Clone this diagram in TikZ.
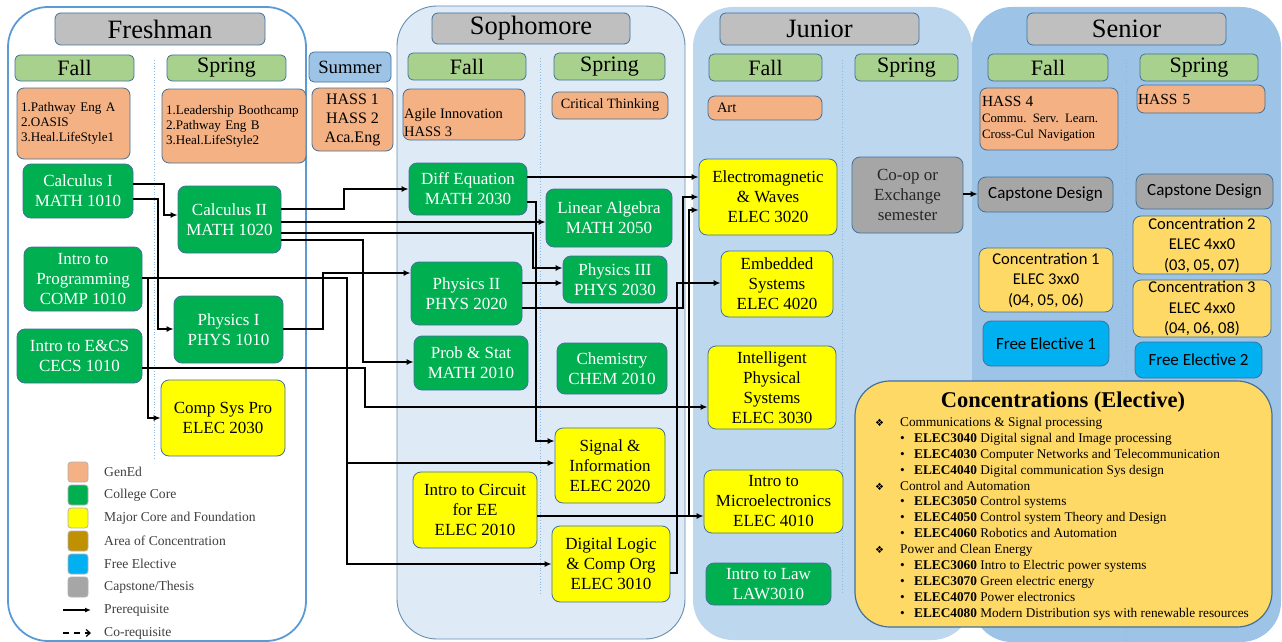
\documentclass[tikz,border=0pt]{standalone}
\usepackage{fontspec}
\setmainfont{Liberation Serif}
\newfontfamily\calfont{Carlito}
\newfontfamily\symfont{DejaVu Sans}
\usetikzlibrary{arrows.meta}

\definecolor{cgened}{HTML}{F4B183}
\definecolor{ccore}{HTML}{00B050}
\definecolor{cmajor}{HTML}{FFFF00}
\definecolor{cconc}{HTML}{FFD966}
\definecolor{careac}{HTML}{BF9000}
\definecolor{cfree}{HTML}{00B0F0}
\definecolor{ccapg}{HTML}{A6A6A6}
\definecolor{chead}{HTML}{BFBFBF}
\definecolor{cseason}{HTML}{A9D18E}
\definecolor{csummer}{HTML}{9DC3E6}
\definecolor{bordr}{HTML}{41719C}
\definecolor{sophf}{HTML}{DEEBF7}
\definecolor{junf}{HTML}{BDD7EE}
\definecolor{senf}{HTML}{9DC3E6}
\definecolor{freshl}{HTML}{5B9BD5}
\definecolor{legt}{HTML}{404040}

\newcommand\crsfont{\fontsize{17}{20}\selectfont}
\newcommand\genfont{\fontsize{13.1}{15}\selectfont}
\newcommand\lstgrp[1]{\makebox[25pt][l]{\symfont\fontsize{10}{12}\selectfont ❖}#1}
\newcommand\lstcrs[2]{\hspace*{25pt}\makebox[14pt][l]{\textbullet}\textbf{#1} #2}

\tikzset{
  wh/.style 2 args={minimum width=#1pt, minimum height=#2pt},
  box/.style={draw=bordr, line width=0.8pt, rounded corners=8pt, align=center, inner sep=1pt},
  core/.style={box, fill=ccore, text=white, font=\crsfont},
  major/.style={box, fill=cmajor, font=\crsfont},
  gened/.style={box, fill=cgened, rounded corners=7pt},
  season/.style={box, fill=cseason, rounded corners=5pt, font=\fontsize{22}{24}\selectfont},
  yearhd/.style={box, fill=chead, rounded corners=6pt, font=\fontsize{26.5}{28}\selectfont},
  capst/.style={box, fill=ccapg, font=\calfont\fontsize{17}{20}\selectfont},
  conc/.style={box, fill=cconc, font=\calfont\fontsize{16.5}{20.5}\selectfont},
  freeel/.style={box, fill=cfree, font=\calfont\fontsize{17}{20}\selectfont},
  panel/.style={rounded corners=40pt},
  divider/.style={draw=freshl!70, line width=0.8pt, dotted},
  pre/.style={line width=1.8pt, -{Latex[length=7pt,width=6pt]}},
  legsq/.style={draw=black!30, line width=0.8pt, rounded corners=3pt, wh={20}{20}},
  legtxt/.style={anchor=west, text=legt, font=\fontsize{13.6}{15}\selectfont, inner sep=0pt},
}

\begin{document}
\begin{tikzpicture}[x=1pt,y=-1pt]
  \useasboundingbox (0,0) rectangle (1282,642);
  % year panels
  \fill[panel, junf] (693,7) rectangle (972,640);
  \fill[panel, senf] (972,7) rectangle (1281,642);
  \draw[panel, fill=sophf, draw=bordr!80, line width=0.9pt] (397,6) rectangle (685,639);
  \draw[panel, fill=white, draw=freshl, line width=1.8pt] (8,7) rectangle (306,641);
  % fall / spring dividers
  \foreach \x/\ya/\yb in {154/60/460, 540/58/593, 842/60/593, 1126/60/640}
    \draw[divider] (\x,\ya) -- (\x,\yb);

  % year and term headers
  \node[yearhd, wh={210}{32}] (hfresh) at (160,29) {Freshman};
  \node[yearhd, wh={198}{31}] (hsoph) at (531,28.5) {Sophomore};
  \node[yearhd, wh={199}{32}] (hjun) at (819.5,29) {Junior};
  \node[yearhd, wh={199}{32}] (hsen) at (1126.5,29) {Senior};
  \node[season, wh={119}{26}] (ffall) at (74.5,68) {Fall};
  \node[season, wh={119}{26}] (fspring) at (226.5,68) {Spring};
  \node[box, fill=csummer, rounded corners=5pt, wh={82}{30}, font=\fontsize{18.7}{20}\selectfont] (summer) at (350,67) {Summer};
  \node[season, wh={118}{27}] (sfall) at (467,66.5) {Fall};
  \node[season, wh={111}{27}] (sspring) at (609.5,66.5) {Spring};
  \node[season, wh={113}{27}] (jfall) at (765.5,67.5) {Fall};
  \node[season, wh={103}{27}] (jspring) at (906.5,67.5) {Spring};
  \node[season, wh={120}{27}] (nfall) at (1048,67.5) {Fall};
  \node[season, wh={118}{27}] (nspring) at (1199,67.5) {Spring};

  % GenEd
  \node[gened, wh={113}{71}, align=left, text width=105pt, font=\genfont] (gef1) at (73.5,123.5) {1.Pathway Eng A\\2.OASIS\\3.Heal.LifeStyle1};
  \node[gened, wh={144}{74}, align=left, text width=136pt, font=\genfont] (gef2) at (234,126) {1.Leadership Boothcamp\\2.Pathway Eng B\\3.Heal.LifeStyle2};
  \node[gened, wh={81}{63}, font=\fontsize{16}{19}\selectfont] (gesum) at (352.5,119.5) {HASS 1\\HASS 2\\Aca.Eng};
  \node[gened, wh={122}{51}] (ges1) at (464,114.5) {};
  \node[anchor=west, align=left, inner sep=0pt, font=\fontsize{14.5}{18}\selectfont] (ges1t) at (404,123) {Agile Innovation\\HASS 3};
  \node[gened, wh={116}{27}, font=\fontsize{14.2}{16}\selectfont] (ges2) at (610,105.5) {Critical Thinking};
  \node[gened, wh={114}{24}, align=left, text width=96pt, font=\fontsize{14.5}{16}\selectfont] (gej1) at (765,108) {Art};
  \node[gened, wh={138}{62}, align=left, text width=134pt, font=\fontsize{12.8}{16}\selectfont] (gen1) at (1049,119) {{\fontsize{15.4}{16}\selectfont HASS 4}\\Commu. Serv. Learn.\\Cross-Cul Navigation};
  \node[gened, wh={128}{28}, align=left, text width=126pt, font=\fontsize{15.4}{16}\selectfont] (gen2) at (1201,99) {HASS 5};

  % courses
  \node[core, wh={110}{54}] (calc1) at (78,191) {Calculus I\\MATH 1010};
  \node[core, wh={103}{67}] (calc2) at (229.5,219.5) {Calculus II\\MATH 1020};
  \node[core, wh={118}{64}] (prog) at (83,279) {Intro to\\Programming\\COMP 1010};
  \node[core, wh={125}{54}] (eecs) at (79.5,356) {Intro to E\&CS\\CECS 1010};
  \node[core, wh={109}{67}] (phys1) at (228.5,329.5) {Physics I\\PHYS 1010};
  \node[major, wh={124}{76}] (compsys) at (223,418) {Comp Sys Pro\\ELEC 2030};
  \node[core, wh={118}{52}] (diffeq) at (468,189) {Diff Equation\\MATH 2030};
  \node[core, wh={126}{58}] (linalg) at (609,218) {Linear Algebra\\MATH 2050};
  \node[core, wh={104}{47}] (phys3) at (615,279.5) {Physics III\\PHYS 2030};
  \node[core, wh={111}{63}] (phys2) at (466.5,293.5) {Physics II\\PHYS 2020};
  \node[core, wh={114}{54}] (probstat) at (471,363) {Prob \& Stat\\MATH 2010};
  \node[core, wh={110}{51}] (chem) at (612,368.5) {Chemistry\\CHEM 2010};
  \node[major, wh={110}{75}] (signal) at (610,465.5) {Signal \&\\Information\\ELEC 2020};
  \node[major, wh={124}{76}] (circuit) at (475,510) {Intro to Circuit\\for EE\\ELEC 2010};
  \node[major, wh={118}{76}] (digital) at (611,564) {Digital Logic\\\& Comp Org\\ELEC 3010};
  \node[major, wh={138}{76}] (emw) at (768,197) {Electromagnetic\\\& Waves\\ELEC 3020};
  \node[major, wh={112}{66}] (embed) at (777,284) {Embedded\\Systems\\ELEC 4020};
  \node[major, wh={128}{83}] (intel) at (772,387.5) {Intelligent\\Physical\\Systems\\ELEC 3030};
  \node[major, wh={139}{63}] (micro) at (773.5,501.5) {Intro to\\Microelectronics\\ELEC 4010};
  \node[core, wh={125}{42}] (law) at (768.5,584) {Intro to Law\\LAW3010};
  \node[box, fill=ccapg, wh={111}{76}, font=\crsfont, text=black!85] (coop) at (907.5,195) {Co-op or\\Exchange\\semester};
  \node[capst, wh={135}{35}] (cap1) at (1045.5,194.5) {Capstone Design};
  \node[capst, wh={137}{35}] (cap2) at (1204.5,191.5) {Capstone Design};
  \node[conc, wh={134}{64}] (conc1) at (1046,280) {Concentration 1\\ELEC 3xx0\\(04, 05, 06)};
  \node[conc, wh={138}{58}] (conc2) at (1202,245) {Concentration 2\\ELEC 4xx0\\(03, 05, 07)};
  \node[conc, wh={138}{57}] (conc3) at (1202,308.5) {Concentration 3\\ELEC 4xx0\\(04, 06, 08)};
  \node[freeel, wh={126}{45}] (free1) at (1046,343.5) {Free Elective 1};
  \node[freeel, wh={127}{36}] (free2) at (1198.5,360) {Free Elective 2};

  % concentrations list
  \node[box, fill=cconc, rounded corners=35pt, line width=1.2pt, wh={417}{246}] (concbox) at (1063.5,504) {};
  \node[inner sep=0pt, font=\bfseries\fontsize{22.5}{24}\selectfont] (conctitle) at (1063,402) {Concentrations (Elective)};
  \node[anchor=north west, align=left, inner sep=0pt, font=\fontsize{13.3}{15.9}\selectfont] (conclist) at (875,417) {%
    \lstgrp{Communications \& Signal processing}\\
    \lstcrs{ELEC3040}{Digital signal and Image processing}\\
    \lstcrs{ELEC4030}{Computer Networks and Telecommunication}\\
    \lstcrs{ELEC4040}{Digital communication Sys design}\\
    \lstgrp{Control and Automation}\\
    \lstcrs{ELEC3050}{Control systems}\\
    \lstcrs{ELEC4050}{Control system Theory and Design}\\
    \lstcrs{ELEC4060}{Robotics and Automation}\\
    \lstgrp{Power and Clean Energy}\\
    \lstcrs{ELEC3060}{Intro to Electric power systems}\\
    \lstcrs{ELEC3070}{Green electric energy}\\
    \lstcrs{ELEC4070}{Power electronics}\\
    \lstcrs{ELEC4080}{Modern Distribution sys with renewable resources}};

  % prerequisites
  \draw[pre] (calc1.east |- 0,184) -- (164,184) |- (calc2.west |- 0,215);
  \draw[pre] (calc1.east |- 0,199) -- (158,199) |- (phys1.west |- 0,329);
  \draw[pre] (calc2.east |- 0,209) -- (344,209) |- (diffeq.west);
  \draw[pre] (calc2.east |- 0,222) -- (linalg.west |- 0,222);
  \draw[pre] (calc2.east |- 0,233) -- (533,233) |- (phys3.west |- 0,268);
  \draw[pre] (calc2.east |- 0,240) -- (363,240) |- (probstat.west |- 0,362);
  \draw[pre] (prog.east |- 0,278) -- (148,278) |- (compsys.west);
  \draw[pre] (prog.east |- 0,278) -- (347,278) |- (signal.west |- 0,463);
  \draw[pre] (prog.east |- 0,278) -- (347,278) |- (digital.west);
  \draw[pre] (phys1.east |- 0,329) -- (323,329) |- (phys2.west |- 0,273);
  \draw[pre] (eecs.east |- 0,368) -- (365,368) |- (intel.west |- 0,407);
  \draw[pre] (diffeq.east |- 0,177) -- (emw.west |- 0,177);
  \draw[pre] (diffeq.east |- 0,202) -- (536,202) |- (signal.west |- 0,441);
  \draw[pre] (phys2.east |- 0,283) -- (phys3.west |- 0,283);
  \draw[pre] (phys2.east |- 0,308) -- (683,308) |- (emw.west |- 0,197);
  \draw[pre] (circuit.east |- 0,516) -- (689,516) |- (emw.west |- 0,210);
  \draw[pre] (circuit.east |- 0,516) -- (micro.west |- 0,516);
  \draw[pre] (digital.east |- 0,573) -- (677,573) |- (embed.west |- 0,283);
  \draw[pre] (coop.east |- 0,194) -- (cap1.west |- 0,194);

  % legend
  \foreach \c/\t [count=\i] in {cgened/GenEd, ccore/College Core, cmajor/Major Core and Foundation,
      careac/Area of Concentration, cfree/Free Elective, ccapg/{Capstone/Thesis}} {
    \node[legsq, fill=\c] (lsq\i) at (78,449+23*\i) {};
    \node[legtxt] (ltx\i) at (104,449+23*\i) {\t};
  }
  \coordinate (lpa) at (63,610);
  \coordinate (lpb) at (91,610);
  \coordinate (lca) at (63,633);
  \coordinate (lcb) at (91,633);
  \draw[line width=1.2pt, -{Latex[length=6pt,width=5pt]}] (lpa) -- (lpb);
  \draw[line width=1.2pt, dash pattern=on 6pt off 5pt, -{Straight Barb[length=4pt,width=7pt]}] (lca) -- (lcb);
  \node[legtxt] (lpre) at (104,610) {Prerequisite};
  \node[legtxt] (lco) at (104,633) {Co-requisite};
\end{tikzpicture}
\end{document}
